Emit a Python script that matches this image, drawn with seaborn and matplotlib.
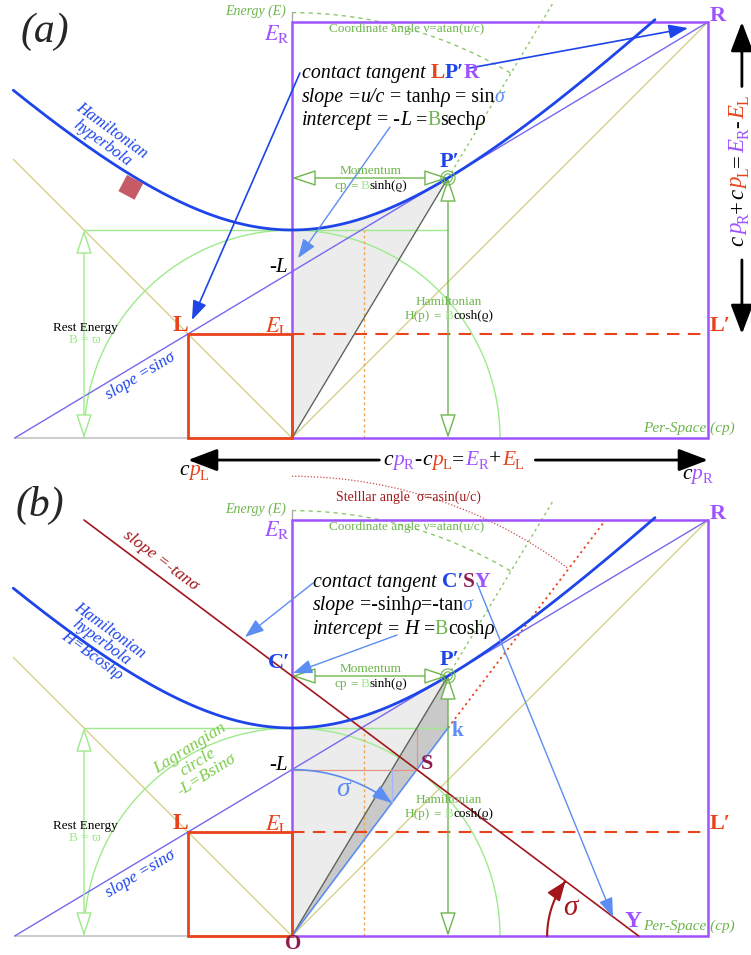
import numpy as np
import matplotlib
matplotlib.use("Agg")
import matplotlib.pyplot as plt
import matplotlib.transforms as mtransforms
from matplotlib.patches import Rectangle, Polygon, FancyArrowPatch, Circle, ArrowStyle
from matplotlib.path import Path
import seaborn as sns

sns.set_theme(style="white")
plt.rcParams["font.family"] = ["Liberation Serif", "DejaVu Serif"]
plt.rcParams["mathtext.fontset"] = "stix"

# ---------------- quantities (in units of the rest energy B) ----------------
rest_energy = 1.0          # B
momentum = 0.75            # cp at P'  (= B sinh rho)
hamiltonian = 1.25         # H at P'   (= B cosh rho)
hyperbola_x = [-1.34, 1.745]
diagonal_x = [-1.34, 0.0]
dotted_top = 2.1           # upper end of the O-P' ray
coord_arc_radius = 2.045   # "coordinate angle" arc
stellar_arc_radius = 2.21  # "stellar angle" arc
sigma_arc_radius = 0.8     # sigma arrow near -L
y_arc_radius = 0.44        # sigma arrow at Y

rho = np.arcsinh(momentum / rest_energy)
sin_sigma = momentum / hamiltonian             # tanh(rho) = u/c
tan_sigma = momentum / rest_energy             # sinh(rho)
intercept = rest_energy ** 2 / hamiltonian     # B sech(rho) = -L
x_L = -intercept / (1 + sin_sigma)             # left light-cone point L
x_R = intercept / (1 - sin_sigma)              # right light-cone point R
x_tan0 = -intercept / sin_sigma                # tangent line hits the axis
x_Y = hamiltonian / tan_sigma                  # C'SY line hits the axis
cos_sigma = np.sqrt(1 - sin_sigma ** 2)
S_pt = (rest_energy * sin_sigma, rest_energy * cos_sigma)
k_pt = (momentum, rest_energy)

# ---------------- colours ----------------
PURPLE = "#9f52ff"
RED = "#e9431c"
BLUE = "#1d45ea"
TANB = "#7468f0"
LBLUE = "#5b8df2"
KHAKI = "#d6d08a"
LGREEN = "#9eea8c"
GREEN = "#6db54c"
DASHGREEN = "#8cc86a"
DRED = "#a3161b"
MAROON = "#8c1d4e"
ORANGE = "#f2a552"
SALMON = "#e39484"
GRAYL = "#5d6657"

DPI = 100
W, H = 751, 955
SC = 208.0

fig = plt.figure(figsize=(W / DPI, H / DPI), dpi=DPI)
fig.patch.set_facecolor("white")


def make_axes(top_px, bottom_px, origin_py):
    ax = fig.add_axes([0, 1 - bottom_px / H, 1, (bottom_px - top_px) / H])
    ax.set_xlim(-292 / SC, (W - 292) / SC)
    ax.set_ylim((origin_py - bottom_px) / SC, (origin_py - top_px) / SC)
    ax.axis("off")
    return ax


ax_a = make_axes(0, 486, 438)
ax_b = make_axes(486, 955, 936)
renderer = fig.canvas.get_renderer()


def rich(ax, x, y, parts, size, ha="left", va="baseline", vertical=False, z=12):
    """Draw differently styled text pieces one after another (with subscripts)."""
    items = []
    for p in parts:
        if isinstance(p, (int, float)):
            items.append((None, p * size * DPI / 72.0, 0.0))
            continue
        s, kw = p
        kw = dict(kw)
        props = dict(fontsize=size, color="black")
        dy = 0.0
        if kw.pop("sub", False):
            props["fontsize"] = size * 0.68
            dy = -0.22 * size * DPI / 72.0
        props.update(kw)
        t = ax.text(x, y, s, va=va, ha="left", rotation=90 if vertical else 0,
                    rotation_mode="anchor", zorder=z, clip_on=False, **props)
        bb = t.get_window_extent(renderer=renderer)
        items.append((t, bb.height if vertical else bb.width, dy))
    total = sum(w for _, w, _ in items)
    off = {"left": 0.0, "center": -total / 2, "right": -total}[ha]
    for t, w, dy in items:
        if t is not None:
            dx, ddy = (-dy, off) if vertical else (off, dy)
            t.set_transform(mtransforms.offset_copy(ax.transData, fig=fig, x=dx, y=ddy, units="dots"))
        off += w


def arrow(ax, p0=None, p1=None, color="k", lw=1.0, style="-|>", hl=0.9, hw=0.35,
          ms=12, fc=None, z=7, path=None):
    st = ArrowStyle(style, head_length=hl, head_width=hw)
    if path is not None:
        a = FancyArrowPatch(path=path, arrowstyle=st, mutation_scale=ms, lw=lw,
                            ec=color, fc=fc or color, zorder=z)
    else:
        a = FancyArrowPatch(p0, p1, arrowstyle=st, mutation_scale=ms, lw=lw, ec=color,
                            fc=fc or color, shrinkA=0, shrinkB=0, zorder=z)
    a.set_clip_on(False)
    ax.add_patch(a)


def arc_pts(cx, cy, r, a0, a1, n=120):
    th = np.deg2rad(np.linspace(a0, a1, n))
    return cx + r * np.cos(th), cy + r * np.sin(th)


IT = dict(style="italic")
B_ = rest_energy
sigma_deg = np.degrees(np.arcsin(sin_sigma))
op_deg = np.degrees(np.arctan2(hamiltonian, momentum))


def cp(sub, color):
    return [("c", IT), ("p", dict(style="italic", color=color)),
            (sub, dict(color=color, sub=True)), 0.04]


def en(sub, color):
    return [("E", dict(style="italic", color=color)), (sub, dict(color=color, sub=True)), 0.04]


def common(ax, panel):
    # hyperbolic sector O - vertex - P'
    sx = np.linspace(0, momentum, 80)
    sector = [(0, 0), (0, B_)] + list(zip(sx, np.sqrt(B_ ** 2 + sx ** 2))) + [(0, 0)]
    ax.add_patch(Polygon(sector, closed=True, fc="#ececec", ec="none", zorder=1))
    if panel == "b":
        ax.add_patch(Polygon([(0, 0), k_pt, (momentum, hamiltonian)], closed=True,
                             fc="#c9c9c9", ec="none", zorder=1.2))

    # axis to the left and light-cone diagonals
    ax.plot([x_tan0, 0], [0, 0], color="#c4c4c4", lw=1.2, zorder=2)
    ax.plot(diagonal_x, [-v for v in diagonal_x], color=KHAKI, lw=1, zorder=2)
    ax.plot([0, x_R], [0, x_R], color=KHAKI, lw=1, zorder=2)

    # rest-energy circle and its level line
    cx, cy = arc_pts(0, 0, B_, 0, 180, 240)
    ax.plot(cx, cy, color=LGREEN, lw=1, zorder=2)
    ax.plot([-B_, momentum], [B_, B_], color=LGREEN, lw=1, zorder=2)

    # half-sector abscissa (area rho/2)
    ax.plot([rho / 2, rho / 2], [0, B_], color=ORANGE, lw=1, ls=(0, (2, 2)), zorder=2)

    # O-P' ray and its dotted extension
    ax.plot([0, momentum], [0, hamiltonian], color=GRAYL, lw=1, zorder=3)
    slope_op = hamiltonian / momentum
    ax.plot([momentum, dotted_top / slope_op], [hamiltonian, dotted_top], color=DASHGREEN,
            lw=1, ls=(0, (2, 2.5)), zorder=2, clip_on=False)

    # coordinate angle arc
    ax_, ay_ = arc_pts(0, 0, coord_arc_radius, 90, op_deg)
    ax.plot(ax_, ay_, color=DASHGREEN, lw=1, ls=(0, (3, 3)), zorder=2, clip_on=False)

    # energy axis tick
    ax.plot([0, 0], [x_R, x_R + 0.05], color="#aaaaaa", lw=1, zorder=2)

    # purple box O..R, red box L..O, dashed L-L'
    ax.add_patch(Rectangle((0, 0), x_R, x_R, fc="none", ec=PURPLE, lw=1.8, zorder=4))
    ax.add_patch(Rectangle((x_L, 0), -x_L, -x_L, fc="none", ec=RED, lw=2, zorder=4.5))
    ax.plot([0, x_R], [-x_L, -x_L], color=RED, lw=1.5, ls=(0, (6, 4)), zorder=4)

    # contact tangent with slope sin(sigma)
    ax.plot([x_tan0, x_R], [0, intercept + sin_sigma * x_R], color=TANB, lw=1, zorder=3)

    # Hamiltonian hyperbola
    hx = np.linspace(hyperbola_x[0], hyperbola_x[1], 400)
    hy = np.sqrt(B_ ** 2 + hx ** 2)
    sns.lineplot(x=hx, y=hy, ax=ax, color=BLUE, lw=2, sort=False, zorder=6)

    # hollow-head measuring arrows
    kw = dict(color=GREEN, lw=1, style="<|-|>", hl=1.5, hw=0.5, ms=10, fc="white", z=5)
    arrow(ax, (0, hamiltonian), (momentum, hamiltonian), **kw)
    arrow(ax, (momentum, 0), (momentum, hamiltonian), **kw)
    kw["color"] = LGREEN
    arrow(ax, (-B_, 0), (-B_, B_), **kw)
    for r in (0.02, 0.034):
        ax.add_patch(Circle((momentum, hamiltonian), r, fc="none", ec=GREEN, lw=0.8, zorder=6))

    # labels shared by both panels
    ax.text(-0.03, 2.05, "Energy (E)", color=GREEN, fontsize=10, style="italic",
            ha="right", va="center", zorder=12)
    ax.text(0.553, 1.966, "Coordinate angle ν=atan(u/c)", color=GREEN, fontsize=9.5,
            ha="center", va="center", zorder=12)
    ax.text(-0.01, 1.94 if panel == "a" else 1.952, r"$E_{\rm R}$", color=PURPLE,
            fontsize=16, ha="right", va="center", zorder=12)
    ax.text(2.048, 2.03, "R", color=PURPLE, fontsize=16, weight="bold", ha="center",
            va="center", zorder=12)
    ax.text(0.38, 1.284, "Momentum", color=GREEN, fontsize=9.5, ha="center",
            va="center", zorder=12)
    rich(ax, 0.38, 1.196, [("cp", dict(color=GREEN)), 0.25, ("=", dict(color=GREEN)), 0.25,
                           ("B", dict(color=LGREEN)), ("sinh(ϱ)", {})], 9.5, ha="center")
    ax.text(0.757, 1.327, "P′", color=BLUE, fontsize=16, weight="bold", ha="center",
            va="center", zorder=12)
    ax.text(0.755, 0.652, "Hamiltonian", color=GREEN, fontsize=9.5, ha="center",
            va="center", zorder=12)
    rich(ax, 0.755, 0.571, [("H(p)", dict(color=GREEN)), 0.25, ("=", dict(color=GREEN)), 0.25,
                            ("B", dict(color=LGREEN)), ("cosh(ϱ)", {})], 9.5, ha="center")
    ax.text(-0.995, 0.531, "Rest Energy", color="black", fontsize=9.5, ha="center",
            va="center", zorder=12)
    ax.text(-0.995, 0.469, "B = ϖ", color=LGREEN, fontsize=9.5, ha="center",
            va="center", zorder=12)
    ax.text(-0.538, 0.54, "L", color=RED, fontsize=17, weight="bold", ha="center",
            va="center", zorder=12)
    ax.text(-0.01, 0.54, r"$E_{\rm L}$", color=RED, fontsize=16, ha="right",
            va="center", zorder=12)
    ax.text(-0.02, 0.822, "-L", color="black", fontsize=15, style="italic", ha="right",
            va="center", zorder=12)
    ax.text(2.06, 0.54, "L′", color=RED, fontsize=16, weight="bold", ha="center",
            va="center", zorder=12)
    ax.text(1.91, 0.046, "Per-Space (cp)", color=GREEN, fontsize=11, style="italic",
            ha="center", va="center", zorder=12)
    ax.text(-0.729, 0.298, "slope =sinσ", color=BLUE, fontsize=12, style="italic",
            ha="center", va="center", rotation=np.degrees(np.arctan(sin_sigma)),
            rotation_mode="anchor", zorder=12)


# ============================ panel (a) ============================
common(ax_a, "a")
ax_a.text(-1.19, 1.955, "(a)", fontsize=30, style="italic", ha="center", va="center")

# small rotated marker on the hyperbola
cxs, cys, side, ang = -0.775, 1.205, 0.088, np.deg2rad(-28)
rot = np.array([[np.cos(ang), -np.sin(ang)], [np.sin(ang), np.cos(ang)]])
corners = [rot @ np.array(c) * side / 2 + np.array([cxs, cys])
           for c in [(-1, -1), (1, -1), (1, 1), (-1, 1)]]
ax_a.add_patch(Polygon(corners, closed=True, fc="#c65b68", ec="none", zorder=7))

ax_a.text(-0.889, 1.447, "Hamiltonian\nhyperbola", color=BLUE, fontsize=12, style="italic",
          ha="center", va="center", rotation=-36, rotation_mode="anchor",
          multialignment="center", linespacing=0.95, zorder=12)

FS = 14.3
BIG = 15.5
rich(ax_a, 0.048, 1.731, [("contact tangent", IT), 0.25,
                          ("L", dict(weight="bold", color=RED, fontsize=BIG)),
                          ("P′", dict(weight="bold", color=BLUE, fontsize=BIG)),
                          ("R", dict(weight="bold", color=PURPLE, fontsize=BIG))], FS)
rich(ax_a, 0.048, 1.615, [("slope", IT), 0.25, ("=", {}), ("u/c", IT), 0.25, ("= tanh", {}),
                          ("ρ", IT), 0.25, ("= sin", {}), ("σ", dict(style="italic", color=LBLUE))], FS)
rich(ax_a, 0.048, 1.505, [("intercept", IT), 0.25, ("= -", {}), ("L", IT), 0.25, ("=", {}),
                          ("B", dict(color=GREEN)), ("sech", {}), ("ρ", IT)], FS)

arrow(ax_a, (0.856, 1.779), (1.904, 1.971), color=BLUE, lw=1.2, hl=0.9, hw=0.33, ms=13)
arrow(ax_a, (0.038, 1.755), (-0.481, 0.567), color=BLUE, lw=1.2, hl=0.9, hw=0.33, ms=13)
arrow(ax_a, (0.471, 1.495), (0.029, 0.865), color=LBLUE, lw=1.0, hl=0.9, hw=0.33, ms=13)

# E_R - E_L and E_R + E_L measuring arrows
xv = 2.163
arrow(ax_a, (xv, 1.69), (xv, x_R), color="black", lw=2, hl=1.0, hw=0.38, ms=18)
arrow(ax_a, (xv, 0.856), (xv, -x_L), color="black", lw=2, hl=1.0, hw=0.38, ms=18)
rich(ax_a, 2.172, 1.288, cp("R", PURPLE) + [("+", {}), 0.04] + cp("L", RED) +
     [("=", {}), 0.04] + en("R", PURPLE) + [("-", {}), 0.04] + en("L", RED),
     16.5, ha="center", vertical=True)
yh = -0.106
arrow(ax_a, (0.42, yh), (x_L, yh), color="black", lw=2, hl=1.0, hw=0.38, ms=18)
arrow(ax_a, (1.17, yh), (x_R, yh), color="black", lw=2, hl=1.0, hw=0.38, ms=18)
rich(ax_a, 0.78, -0.128, cp("R", PURPLE) + [("-", {}), 0.04] + cp("L", RED) +
     [("=", {}), 0.04] + en("R", PURPLE) + [("+", {}), 0.04] + en("L", RED),
     15.5, ha="center")
rich(ax_a, -0.47, -0.18, cp("L", RED)[:-1], 15.5, ha="center")
rich(ax_a, 1.947, -0.195, cp("R", PURPLE)[:-1], 15.5, ha="center")

# ============================ panel (b) ============================
common(ax_b, "b")
ax_b.text(-1.21, 2.07, "(b)", fontsize=30, style="italic", ha="center", va="center")

# stellar angle arc and the O-S-k ray continued
sxa, sya = arc_pts(0, 0, stellar_arc_radius, 90, 90 - sigma_deg)
ax_b.plot(sxa, sya, color="#d04848", lw=0.9, ls=(0, (1, 1.5)), zorder=2, clip_on=False)
ok_dir = np.array(k_pt) / np.hypot(*k_pt)
t_top = (x_R - k_pt[1]) / ok_dir[1]
ax_b.plot([k_pt[0], k_pt[0] + ok_dir[0] * t_top], [k_pt[1], x_R - 0.01], color=RED, lw=1.3,
          ls=(0, (1.2, 2)), zorder=2)
ax_b.text(0.558, 2.111, "Stelllar angle  σ=asin(u/c)", color=DRED, fontsize=10,
          ha="center", va="center", zorder=12, clip_on=False)

# O-S-k ray, S projections
ax_b.plot([0, k_pt[0]], [0, k_pt[1]], color=LBLUE, lw=1.2, zorder=3)
ax_b.plot([0, S_pt[0]], [S_pt[1], S_pt[1]], color=SALMON, lw=0.9, zorder=3)
ax_b.plot([S_pt[0], S_pt[0]], [S_pt[1], B_], color=SALMON, lw=0.9, zorder=3)

# C'SY line: slope -tan(sigma), intercept H
xl = np.array([-1.0, x_Y])
ax_b.plot(xl, hamiltonian - tan_sigma * xl, color=DRED, lw=1.2, zorder=5)

# sigma arrow from -L to the O-k ray
gx, gy = arc_pts(0, 0, sigma_arc_radius, 90, 90 - sigma_deg, 60)
ax_b.plot([gx[-1], gx[-1]], [gy[-1], intercept], color="#9fb8f5", lw=0.9, zorder=3)
arrow(ax_b, path=Path(np.column_stack([gx, gy])), color=LBLUE, lw=1.2, hl=0.9, hw=0.33, ms=13)
ax_b.text(0.245, 0.702, "σ", color=LBLUE, fontsize=20, style="italic", ha="center",
          va="center", zorder=12)

# sigma arrow at Y
yx, yy = arc_pts(x_Y, 0, y_arc_radius, 180, 180 - sigma_deg, 60)
arrow(ax_b, path=Path(np.column_stack([yx, yy])), color=DRED, lw=1.5, hl=0.9, hw=0.35, ms=13)
ax_b.text(1.337, 0.137, "σ", color=DRED, fontsize=21, style="italic", ha="center",
          va="center", zorder=12)

ax_b.text(-0.63, 1.803, "slope =-tanσ", color=DRED, fontsize=12.5, style="italic",
          ha="center", va="center", rotation=-np.degrees(np.arctan(tan_sigma)),
          rotation_mode="anchor", zorder=12)
ax_b.text(-0.918, 1.409, "Hamiltonian\nhyperbola\nH=Bcoshρ", color=BLUE, fontsize=12,
          style="italic", ha="center", va="center", rotation=-36, rotation_mode="anchor",
          multialignment="center", linespacing=0.95, zorder=12)
ax_b.text(-0.452, 0.837, "Lagrangian\ncircle\n-L=Bsinσ", color="#7ccc4a", fontsize=12.5,
          style="italic", ha="center", va="center", rotation=32, rotation_mode="anchor",
          multialignment="center", linespacing=0.95, zorder=12)

rich(ax_b, 0.101, 1.678, [("contact tangent", IT), 0.25,
                          ("C′", dict(weight="bold", color=BLUE, fontsize=BIG)),
                          ("S", dict(weight="bold", color=MAROON, fontsize=BIG)),
                          ("Y", dict(weight="bold", color=PURPLE, fontsize=BIG))], FS)
rich(ax_b, 0.101, 1.567, [("slope", IT), 0.25, ("=-sinh", {}), ("ρ", IT), ("=-tan", {}),
                          ("σ", dict(style="italic", color=LBLUE))], FS)
rich(ax_b, 0.101, 1.452, [("intercept", IT), 0.25, ("=", {}), 0.25, ("H", IT), 0.25, ("=", {}),
                          ("B", dict(color=GREEN)), ("cosh", {}), ("ρ", IT)], FS)

arrow(ax_b, (0.101, 1.697), (-0.226, 1.4375), color=LBLUE, lw=1.0, hl=0.9, hw=0.33, ms=13)
arrow(ax_b, (0.505, 1.447), (0.005, 1.264), color=LBLUE, lw=1.0, hl=0.9, hw=0.33, ms=13)
arrow(ax_b, (0.889, 1.697), (1.543, 0.091), color=LBLUE, lw=1.0, hl=0.9, hw=0.33, ms=13)

ax_b.text(-0.01, 1.312, "C′", color=BLUE, fontsize=16, weight="bold", ha="right",
          va="center", zorder=12)
ax_b.text(0.793, 0.986, "k", color=LBLUE, fontsize=15, weight="bold", ha="center",
          va="center", zorder=12)
ax_b.text(0.65, 0.827, "S", color=MAROON, fontsize=16, weight="bold", ha="center",
          va="center", zorder=12)
ax_b.text(1.64, 0.072, "Y", color=PURPLE, fontsize=17, weight="bold", ha="center",
          va="center", zorder=12)
ax_b.text(0.005, -0.04, "O", color=MAROON, fontsize=15, weight="bold", ha="center",
          va="center", zorder=12)

fig.savefig("out.png", dpi=DPI, facecolor="white")
